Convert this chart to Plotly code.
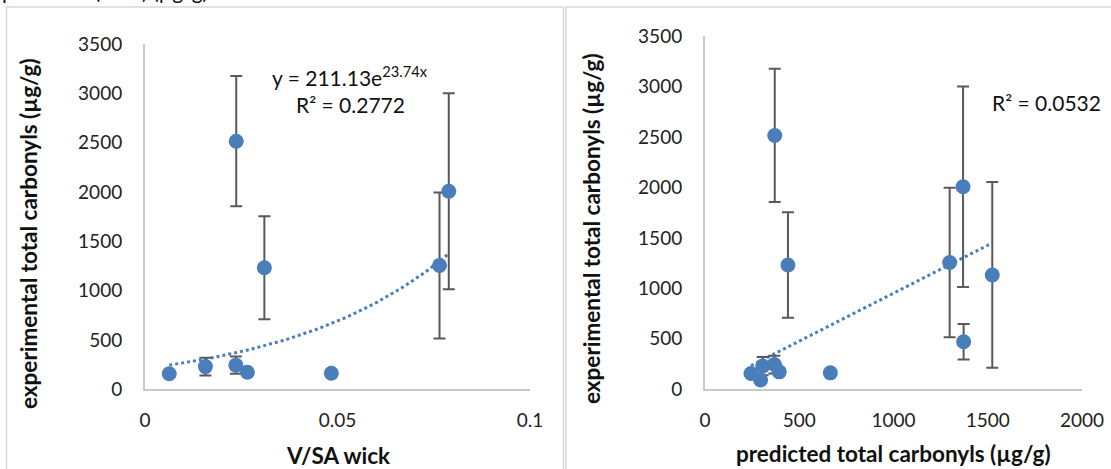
import numpy as np
import plotly.graph_objects as go

# Samples shared by both panels (experimental totals with ± error), V/SA wick ratio
# and model-predicted totals. The last three samples have no V/SA value.
experimental = [157, 230, 2515, 245, 173, 1232, 163, 1256, 2007, 92, 471, 1133]
exp_error = [None, 90, 660, 88, None, 522, None, 740, 993, None, 177, 920]
vsa_wick = [0.0063, 0.0157, 0.0237, 0.0236, 0.0266, 0.031, 0.0484, 0.0765, 0.0789, None, None, None]
predicted = [244, 306, 370, 368, 394, 440, 665, 1298, 1369, 295, 1372, 1524]

# Exponential trend for the V/SA panel: y = a * exp(b x)
exp_a, exp_b = 211.13, 23.74
exp_r2 = 0.2772
# Linear trend for the predicted-vs-experimental panel
lin_slope, lin_intercept = 0.95, 2.0
lin_r2 = 0.0532

y_ticks = [0, 500, 1000, 1500, 2000, 2500, 3000, 3500]

W, H = 1111, 469
BLUE = "#4a7ebb"
ERR = "#595959"
AXIS = "#c9c9c9"
FONT = "Lato"


def px_x(p):
    return p / W


def px_y(p):
    return 1 - p / H


fig = go.Figure()

# Left panel: V/SA wick
idx_l = [i for i, v in enumerate(vsa_wick) if v is not None]
xl = [vsa_wick[i] for i in idx_l]
yl = [experimental[i] for i in idx_l]
el = [exp_error[i] for i in idx_l]

xt = np.linspace(min(xl), max(xl), 60)
fig.add_trace(go.Scatter(x=xt, y=exp_a * np.exp(exp_b * xt), mode="lines",
                         line=dict(color=BLUE, width=3, dash="dot"),
                         xaxis="x", yaxis="y", showlegend=False))
fig.add_trace(go.Scatter(x=xl, y=yl, mode="markers",
                         marker=dict(color=BLUE, size=15),
                         error_y=dict(type="data", array=el, visible=True,
                                      color=ERR, thickness=2, width=6),
                         xaxis="x", yaxis="y", showlegend=False))

# Right panel: predicted totals
xr = np.linspace(min(predicted), max(predicted), 2)
fig.add_trace(go.Scatter(x=xr, y=lin_slope * xr + lin_intercept, mode="lines",
                         line=dict(color=BLUE, width=3, dash="dot"),
                         xaxis="x2", yaxis="y2", showlegend=False))
fig.add_trace(go.Scatter(x=predicted, y=experimental, mode="markers",
                         marker=dict(color=BLUE, size=15),
                         error_y=dict(type="data", array=exp_error, visible=True,
                                      color=ERR, thickness=2, width=6),
                         xaxis="x2", yaxis="y2", showlegend=False))

tick_font = dict(family=FONT, size=19, color="#222222")
title_font = dict(family=FONT, size=22.5, color="#111111")

common_x = dict(showline=True, linecolor=AXIS, linewidth=2, showgrid=False,
                zeroline=False, ticks="", tickfont=tick_font, ticklabelstandoff=13,
                automargin=False)
common_y = dict(showline=True, linecolor=AXIS, linewidth=2, showgrid=False,
                zeroline=False, ticks="", tickfont=tick_font, ticklabelstandoff=17,
                range=[0, 3500], tickvals=y_ticks, automargin=False)

fig.update_layout(
    width=W, height=H,
    margin=dict(l=0, r=0, t=0, b=0, pad=0, autoexpand=False),
    paper_bgcolor="white", plot_bgcolor="white",
    xaxis=dict(domain=[px_x(145), px_x(530)], range=[0, 0.1],
               tickvals=[0, 0.05, 0.1], ticktext=["0", "0.05", "0.1"],
               anchor="y", **common_x),
    yaxis=dict(domain=[px_y(389.3), px_y(44)], anchor="x", **common_y),
    xaxis2=dict(domain=[px_x(705), px_x(1082)], range=[0, 2000],
                tickvals=[0, 500, 1000, 1500, 2000], anchor="y2", **common_x),
    yaxis2=dict(domain=[px_y(389.3), px_y(36)], anchor="x2", **common_y),
)

# Chart frames
frame = dict(color="#d9d9d9", width=1.5)
fig.add_shape(type="rect", xref="paper", yref="paper",
              x0=px_x(6.5), x1=px_x(563.5), y0=-0.2, y1=px_y(7), line=frame)
fig.add_shape(type="rect", xref="paper", yref="paper",
              x0=px_x(566), x1=1.2, y0=-0.2, y1=px_y(7), line=frame)


def label(text, x, y, font, **kw):
    return dict(text=text, x=px_x(x), y=px_y(y), xref="paper", yref="paper",
                xanchor="center", yanchor="middle", showarrow=False, font=font, **kw)


ann = []
# Caption of the block above, mostly out of view
ann.append(dict(text="predicted (total) (µg/g)", x=0, y=1, xref="paper", yref="paper",
                xanchor="left", yanchor="bottom", yshift=-5, showarrow=False,
                font=dict(family=FONT, size=21, color="#111111")))
# Axis titles
ann.append(label("<b>V/SA wick</b>", 338, 455, title_font))
ann.append(label("<b>predicted total carbonyls (µg/g)</b>", 893, 453, title_font))
ann.append(label("<b>experimental total carbonyls (µg/g)</b>", 29, 234, title_font, textangle=-90))
ann.append(label("<b>experimental total carbonyls (µg/g)</b>", 591, 229, title_font, textangle=-90))
# Trendline labels
lab_font = dict(family=FONT, size=21, color="#111111")
ann.append(label(f"y = {exp_a:.2f}e<sup>{exp_b:.2f}x</sup>", 350, 76, lab_font))
ann.append(label(f"R² = {exp_r2:.4f}", 350, 104, lab_font))
ann.append(label(f"R² = {lin_r2:.4f}", 1046, 103, lab_font))
fig.update_layout(annotations=ann)

fig.write_html("out.html")
